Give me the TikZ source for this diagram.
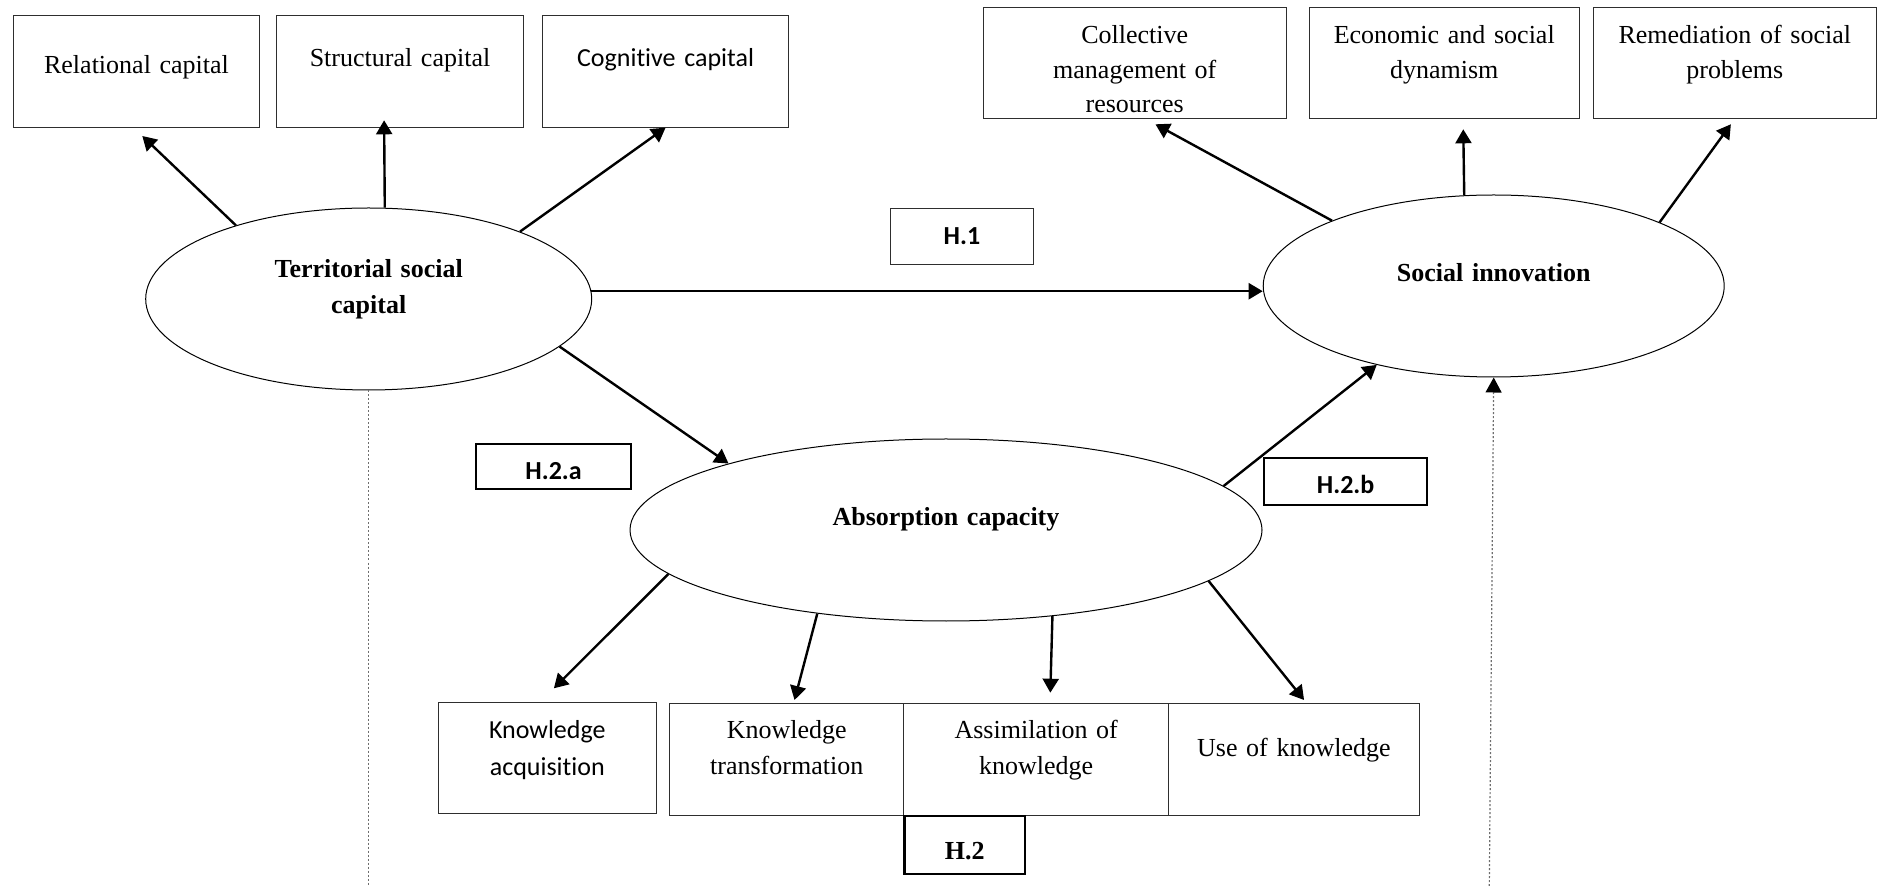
\documentclass[tikz,border=0pt]{standalone}
\usepackage{fontspec}
\setmainfont{Liberation Serif}
\newfontfamily\calibrifont{Carlito}[Ligatures=NoCommon]
\usepackage{xcolor}
\usepackage{tikz}
\usetikzlibrary{arrows.meta,shapes.geometric}
\definecolor{modelInk}{HTML}{000000}
\definecolor{modelRule}{HTML}{2E2E2E}
\definecolor{modelDots}{HTML}{6E6E6E}
\tikzset{
  modelBox/.style={
    draw=modelRule,
    line width=0.5pt,
    anchor=north west,
    inner sep=0pt,
    align=center
  },
  modelHyp/.style={
    modelBox,
    draw=modelInk,
    line width=1.1pt
  },
  modelConstruct/.style={
    ellipse,
    draw=modelInk,
    line width=0.5pt,
    inner sep=0pt,
    align=center,
    minimum height=91pt,
    font=\fontsize{13}{18.3}\selectfont\bfseries
  },
  modelArrow/.style={
    -{Triangle[length=7pt,width=8pt]},
    draw=modelInk,
    line width=1.2pt
  },
  modelDotted/.style={
    draw=modelDots,
    line width=0.6pt,
    dash pattern=on 1pt off 1pt
  },
  timesText/.style={font=\fontsize{13}{#1}\selectfont},
  calibriText/.style={font=\calibrifont\fontsize{13}{#1}\selectfont}
}

\begin{document}
\begin{tikzpicture}[x=0.5pt, y=-0.5pt]
\useasboundingbox (0,0) rectangle (1877,886);

\node[modelBox, timesText=16.5pt, text width=123.2pt, text height=29pt, text depth=26.85pt]
  (relational) at (12.8,15) {Relational capital};
\node[modelBox, timesText=16.5pt, text width=123.5pt, text height=25.65pt, text depth=30.2pt]
  (structural) at (276,15) {Structural capital};
\node[modelBox, calibriText=16.5pt, text width=123.25pt, text height=25.65pt, text depth=30.2pt]
  (cognitive) at (541.8,15) {Cognitive capital};

\node[modelBox, timesText=17.3pt, text width=151.55pt, text height=18pt, text depth=37.2pt]
  (collective) at (982.7,7.3) {Collective\\management of\\resources};
\node[modelBox, timesText=17.3pt, text width=134.75pt, text height=18pt, text depth=37.2pt]
  (dynamism) at (1309,7.3) {Economic and social\\dynamism};
\node[modelBox, timesText=17.3pt, text width=141.25pt, text height=18pt, text depth=37.2pt]
  (remediation) at (1593,7.3) {Remediation of social\\problems};

\node[modelConstruct, minimum width=223pt, text width=140pt, text height=10pt, text depth=31.9pt]
  (territorial) at (368.7,299) {Territorial social\\capital};
\node[modelConstruct, minimum width=230.5pt, text width=130pt, text height=10pt, text depth=14.7pt]
  (innovation) at (1493.7,286) {Social innovation};
\node[modelConstruct, minimum width=316pt, text width=150pt, text height=10pt, text depth=14pt]
  (absorption) at (946,530) {Absorption capacity};

\node[modelBox, calibriText=16pt, text width=71.95pt, text height=18.1pt, text depth=9.75pt]
  (hOne) at (889.5,208.3) {\textbf{H.1}};
\node[modelHyp, calibriText=16pt, text width=77.5pt, text height=17.85pt, text depth=4.65pt]
  (hTwoA) at (475,442.7) {\textbf{H.2.a}};
\node[modelHyp, calibriText=16pt, text width=81.5pt, text height=17.85pt, text depth=5.95pt]
  (hTwoB) at (1263,456.7) {\textbf{H.2.b}};

\node[modelBox, calibriText=18.7pt, text width=109.2pt, text height=18pt, text depth=37.65pt]
  (acquisition) at (437.6,702) {Knowledge\\acquisition};
\node[modelBox, timesText=18pt, text width=117.2pt, text height=17.35pt, text depth=38.5pt]
  (transformation) at (669,703.3) {Knowledge\\transformation};
\node[modelBox, timesText=18pt, text width=132.3pt, text height=17.35pt, text depth=38.5pt]
  (assimilation) at (903.4,703.3) {Assimilation of\\knowledge};
\node[modelBox, timesText=18pt, text width=125.35pt, text height=26.5pt, text depth=29.35pt]
  (useKnowledge) at (1168,703.3) {Use of knowledge};
\node[modelHyp, timesText=16pt, text width=60.2pt, text height=21.75pt, text depth=7.1pt]
  (hTwo) at (903.4,815) {\textbf{H.2}};

\draw[modelArrow] (territorial.151.2) -- ([xshift=2.9pt,yshift=-4.15pt]relational.south);
\draw[modelArrow] (territorial.80.7) -- ([xshift=-7.95pt,yshift=3.7pt]structural.south);
\draw[modelArrow] (territorial.24.2) -- (cognitive.south);
\draw[modelArrow] (territorial.2.5) -- (territorial.2.5 -| innovation.west);
\draw[modelArrow] (territorial.-14) -- (absorption.163.6);
\draw[modelArrow] (absorption.9.25) -- (innovation.-146);

\draw[modelArrow] (innovation.158.4) -- ([xshift=10.35pt,yshift=-2.8pt]collective.south);
\draw[modelArrow] (innovation.108.9) -- ([xshift=9.5pt,yshift=-5.3pt]dynamism.south);
\draw[modelArrow] (innovation.21.4) -- ([xshift=-1.95pt,yshift=-2.8pt]remediation.south);

\draw[modelArrow] (absorption.-171.2) -- ([xshift=3.3pt,yshift=6.85pt]acquisition.north);
\draw[modelArrow] (absorption.-147.3) -- ([xshift=3.9pt,yshift=1.65pt]transformation.north);
\draw[modelArrow] (absorption.-39.6) -- ([xshift=7.05pt,yshift=5.3pt]assimilation.north);
\draw[modelArrow] (absorption.-11.5) -- ([xshift=5.1pt,yshift=1.65pt]useKnowledge.north);

\coordinate (leftFoot) at (368.7,886);
\coordinate (rightFoot) at (1489.3,886);
\draw[modelDotted] (territorial.south) -- (leftFoot);
\draw[modelDotted, -{Triangle[length=7.5pt,width=8pt,color=modelInk]}]
  (rightFoot) -- (innovation.south);
\end{tikzpicture}
\end{document}
